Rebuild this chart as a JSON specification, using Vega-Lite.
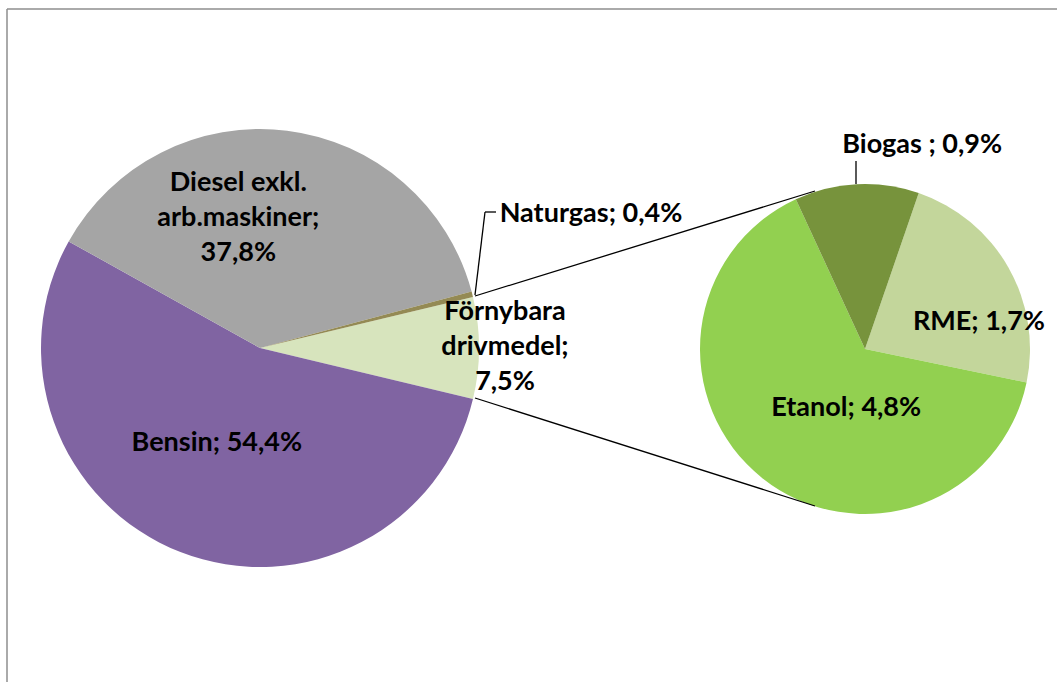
{
  "$schema": "https://vega.github.io/schema/vega-lite/v6.json",
  "width": 1050,
  "height": 673,
  "autosize": {"type": "none"},
  "padding": {"left": 7, "top": 9, "right": 0, "bottom": 0},
  "background": "white",
  "config": {
    "view": {"stroke": null},
    "text": {"font": "Lato", "fontWeight": "bold", "fontSize": 27, "lineHeight": 35, "lineBreak": "\n", "baseline": "alphabetic", "color": "#000000"}
  },
  "datasets": {
    "main": [
      {"name": "Förnybara", "label": "Förnybara\ndrivmedel;\n7,5%", "v": 7.5, "k": 1},
      {"name": "Bensin", "label": "Bensin; 54,4%", "v": 54.4, "k": 2},
      {"name": "Diesel", "label": "Diesel exkl.\narb.maskiner;\n37,8%", "v": 37.8, "k": 3},
      {"name": "Naturgas", "label": "Naturgas; 0,4%", "v": 0.4, "k": 4}
    ],
    "sub": [
      {"name": "RME", "label": "RME; 1,7%", "v": 1.7, "k": 1},
      {"name": "Etanol", "label": "Etanol; 4,8%", "v": 4.8, "k": 2},
      {"name": "Biogas", "label": "Biogas ; 0,9%", "v": 0.9, "k": 3}
    ]
  },
  "layer": [
    {
      "data": {"values": [{}]},
      "layer": [
        {"mark": {"type": "rule", "color": "#8e8e8e", "strokeWidth": 1.5},
         "encoding": {"y": {"value": 0}}},
        {"mark": {"type": "rule", "color": "#8e8e8e", "strokeWidth": 1.5},
         "encoding": {"x": {"value": 0}}}
      ]
    },
    {
      "data": {"name": "main"},
      "encoding": {
        "theta": {"field": "v", "type": "quantitative", "stack": true, "scale": {"range": [1.33536, 7.61854]}},
        "detail": {"field": "name", "type": "nominal"},
        "order": {"field": "k", "type": "quantitative"},
        "x": {"value": 253},
        "y": {"value": 339}
      },
      "layer": [
        {"mark": {"type": "arc", "outerRadius": 219},
         "encoding": {"color": {"field": "name", "type": "nominal", "legend": null,
          "scale": {"domain": ["Förnybara", "Bensin", "Diesel", "Naturgas", "RME", "Etanol", "Biogas"],
                    "range": ["#D7E4BD", "#8064A2", "#A5A5A5", "#948A54", "#C3D69B", "#92D050", "#77933C"]}}}},
        {"mark": {"type": "text", "radius": 140, "dx": -39, "dy": -18},
         "encoding": {"text": {"condition": {"test": "datum.name === 'Diesel'", "field": "label"}, "value": ""}}},
        {"mark": {"type": "text", "radius": 105, "dx": -5, "dy": 5},
         "encoding": {"text": {"condition": {"test": "datum.name === 'Bensin'", "field": "label"}, "value": ""}}},
        {"mark": {"type": "text", "radius": 245, "dx": 0, "dy": -28},
         "encoding": {"text": {"condition": {"test": "datum.name === 'Förnybara'", "field": "label"}, "value": ""}}},
        {"mark": {"type": "text", "radius": 230, "dx": 108, "dy": -70},
         "encoding": {"text": {"condition": {"test": "datum.name === 'Naturgas'", "field": "label"}, "value": ""}}}
      ]
    },
    {
      "data": {"name": "sub"},
      "encoding": {
        "theta": {"field": "v", "type": "quantitative", "stack": true, "scale": {"range": [0.33161, 6.61480]}},
        "detail": {"field": "name", "type": "nominal"},
        "order": {"field": "k", "type": "quantitative"},
        "x": {"value": 858},
        "y": {"value": 340}
      },
      "layer": [
        {"mark": {"type": "arc", "outerRadius": 165},
         "encoding": {"color": {"field": "name", "type": "nominal", "legend": null,
          "scale": {"domain": ["Förnybara", "Bensin", "Diesel", "Naturgas", "RME", "Etanol", "Biogas"],
                    "range": ["#D7E4BD", "#8064A2", "#A5A5A5", "#948A54", "#C3D69B", "#92D050", "#77933C"]}}}},
        {"mark": {"type": "text", "radius": 100, "dx": 27, "dy": 30},
         "encoding": {"text": {"condition": {"test": "datum.name === 'RME'", "field": "label"}, "value": ""}}},
        {"mark": {"type": "text", "radius": 80, "dx": 31, "dy": 4},
         "encoding": {"text": {"condition": {"test": "datum.name === 'Etanol'", "field": "label"}, "value": ""}}},
        {"mark": {"type": "text", "radius": 195, "dx": 67, "dy": -1},
         "encoding": {"text": {"condition": {"test": "datum.name === 'Biogas'", "field": "label"}, "value": ""}}}
      ]
    },
    {
      "data": {"values": [{}]},
      "layer": [
        {"mark": {"type": "rule", "color": "#000000", "strokeWidth": 1.3},
         "encoding": {"x": {"value": 468}, "y": {"value": 287}, "x2": {"value": 808}, "y2": {"value": 182}}},
        {"mark": {"type": "rule", "color": "#000000", "strokeWidth": 1.3},
         "encoding": {"x": {"value": 468}, "y": {"value": 389}, "x2": {"value": 808}, "y2": {"value": 497}}},
        {"mark": {"type": "rule", "color": "#000000", "strokeWidth": 1.3},
         "encoding": {"x": {"value": 468}, "y": {"value": 286}, "x2": {"value": 478}, "y2": {"value": 203}}},
        {"mark": {"type": "rule", "color": "#000000", "strokeWidth": 1.3},
         "encoding": {"x": {"value": 478}, "y": {"value": 203}, "x2": {"value": 489}, "y2": {"value": 203}}},
        {"mark": {"type": "rule", "color": "#000000", "strokeWidth": 1.3},
         "encoding": {"x": {"value": 849}, "y": {"value": 152}, "x2": {"value": 849}, "y2": {"value": 175}}}
      ]
    }
  ],
  "resolve": {"scale": {"theta": "independent"}}
}
